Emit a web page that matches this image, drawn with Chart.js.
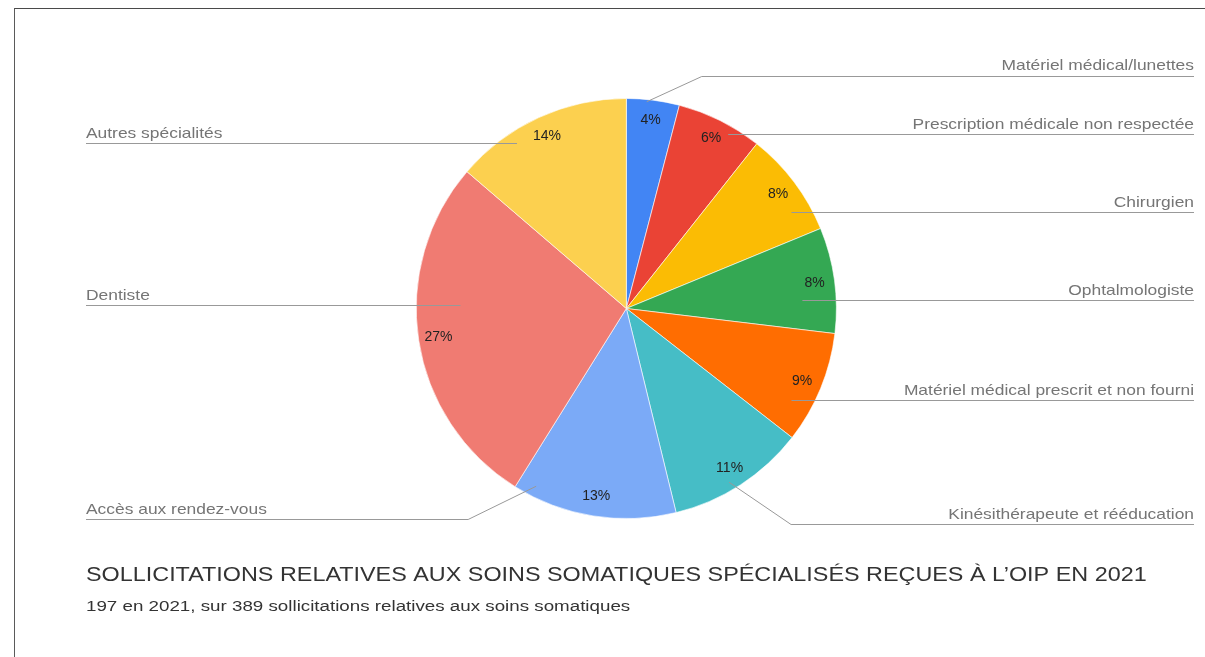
<!DOCTYPE html>
<html><head><meta charset="utf-8">
<script src="https://cdn.jsdelivr.net/npm/chart.js@4/dist/chart.umd.min.js"></script>
<style>
html,body{margin:0;padding:0;background:#fff;}
#wrap{position:relative;width:1205px;height:657px;overflow:hidden;}
#frame{position:absolute;left:14px;top:8px;width:1300px;height:700px;border-top:1px solid #4a4a4a;border-left:1px solid #5a5a5a;}
canvas{position:absolute;left:0;top:0;}
</style></head><body>
<div id="wrap"><div id="frame"></div><canvas id="c" width="1205" height="657"></canvas></div>
<script>
// ---- data ----
const categories = [
  'Matériel médical/lunettes',
  'Prescription médicale non respectée',
  'Chirurgien',
  'Ophtalmologiste',
  'Matériel médical prescrit et non fourni',
  'Kinésithérapeute et rééducation',
  'Accès aux rendez-vous',
  'Dentiste',
  'Autres spécialités'
];
const counts = [8, 13, 16, 16, 17, 21, 25, 54, 27];
const percentLabels = ['4%', '6%', '8%', '8%', '9%', '11%', '13%', '27%', '14%'];
const titleText = 'SOLLICITATIONS RELATIVES AUX SOINS SOMATIQUES SPÉCIALISÉS REÇUES À L’OIP EN 2021';
const subtitleText = '197 en 2021, sur 389 sollicitations relatives aux soins somatiques';

// ---- styles / layout ----
const sliceColors = ['#4285F4', '#EA4335', '#FBBC04', '#34A853', '#FF6D01', '#46BDC6', '#7BAAF7', '#F07B72', '#FCD04F'];
const FONT = '"Liberation Sans", Arial, Helvetica, sans-serif';
const labelRightX = 1194, labelLeftX = 86;
const leaderLayout = [
  {side: 'right', lineY: 75.7,  frac: 0.385, k: 0.989, bend: 55},
  {side: 'right', lineY: 134,   frac: 0.66,  k: 0.961, bend: 0},
  {side: 'right', lineY: 212.3, frac: 0.731, k: 0.91,  bend: 0},
  {side: 'right', lineY: 300,   frac: 0.673, k: 0.839, bend: 0},
  {side: 'right', lineY: 400,   frac: 0.71,  k: 0.898, bend: 0},
  {side: 'right', lineY: 524.3, frac: 0.56,  k: 0.961, bend: 62},
  {side: 'left',  lineY: 519.3, frac: 0.889, k: 0.949, bend: -68},
  {side: 'left',  lineY: 305,   frac: 0.575, k: 0.79,  bend: 0},
  {side: 'left',  lineY: 143.3, frac: 0.321, k: 0.943, bend: 0}
];

// draw text with a horizontal stretch (reference font is wider than Arial)
function wideText(ctx, text, x, y, align, sx) {
  ctx.save();
  ctx.translate(x, y);
  ctx.scale(sx, 1);
  ctx.textAlign = align;
  ctx.fillText(text, 0, 0);
  ctx.restore();
}

const labelsPlugin = {
  id: 'pieLabels',
  afterDatasetsDraw(chart) {
    const ctx = chart.ctx;
    const meta = chart.getDatasetMeta(0);
    ctx.save();
    meta.data.forEach((arc, i) => {
      const L = leaderLayout[i];
      const a = arc.startAngle + (arc.endAngle - arc.startAngle) * L.frac;
      const r = arc.outerRadius * L.k;
      const ax = arc.x + r * Math.cos(a), ay = arc.y + r * Math.sin(a);
      const ly = Math.round(L.lineY) + 0.5;
      const endX = L.side === 'right' ? labelRightX : labelLeftX;
      ctx.strokeStyle = '#999999';
      ctx.lineWidth = 1;
      ctx.beginPath();
      if (L.bend) {
        ctx.moveTo(ax, ay);
        ctx.lineTo(ax + L.bend, ly);
        ctx.lineTo(endX, ly);
      } else {
        ctx.moveTo(ax, ly);
        ctx.lineTo(endX, ly);
      }
      ctx.stroke();
      ctx.fillStyle = '#757575';
      ctx.font = '14.5px ' + FONT;
      ctx.textBaseline = 'alphabetic';
      wideText(ctx, categories[i], endX, L.lineY - 5.5, L.side === 'right' ? 'right' : 'left', 1.2);
    });
    meta.data.forEach((arc, i) => {
      const a = (arc.startAngle + arc.endAngle) / 2;
      const r = arc.outerRadius * 0.905;
      ctx.fillStyle = '#222222';
      ctx.font = '14px ' + FONT;
      ctx.textAlign = 'center';
      ctx.textBaseline = 'middle';
      ctx.fillText(percentLabels[i], arc.x + r * Math.cos(a), arc.y + r * Math.sin(a));
    });
    ctx.textBaseline = 'alphabetic';
    ctx.fillStyle = '#333333';
    ctx.font = '20.5px ' + FONT;
    wideText(ctx, titleText, 86, 581, 'left', 1.14);
    ctx.font = '15.5px ' + FONT;
    wideText(ctx, subtitleText, 86, 611, 'left', 1.21);
    ctx.restore();
  }
};

new Chart(document.getElementById('c'), {
  type: 'pie',
  data: {
    labels: categories,
    datasets: [{
      data: counts,
      backgroundColor: sliceColors,
      borderColor: '#ffffff',
      borderWidth: 0.6
    }]
  },
  options: {
    responsive: false,
    animation: false,
    layout: {padding: {top: 98, bottom: 138, left: 416, right: 368.3}},
    plugins: {legend: {display: false}, tooltip: {enabled: false}, title: {display: false}}
  },
  plugins: [labelsPlugin]
});
</script>
</body></html>
